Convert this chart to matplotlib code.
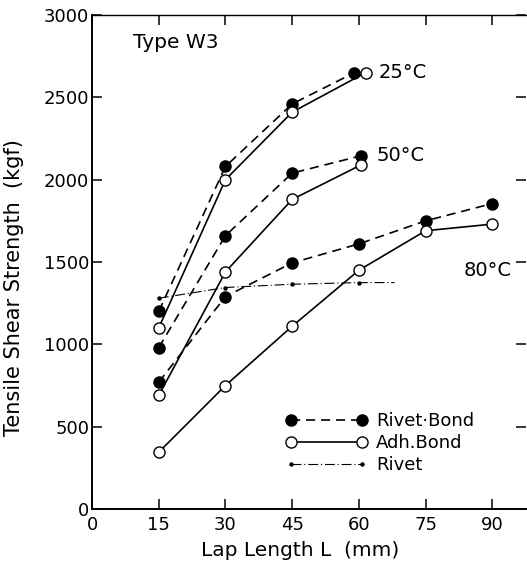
import matplotlib
matplotlib.use("Agg")
import matplotlib.pyplot as plt

# ─── Data ─────────────────────────────────────────────────────────────────────
lap_long = [15, 30, 45, 60, 75, 90]

rb_25_x = [15, 30, 45, 59]
rb_25 = [1200, 2080, 2460, 2650]
ad_25_x = [15, 30, 45, 61.5]
ad_25 = [1100, 2000, 2410, 2650]

rb_50_x = [15, 30, 45, 60.5]
rb_50 = [980, 1660, 2040, 2145]
ad_50_x = [15, 30, 45, 60.5]
ad_50 = [690, 1440, 1880, 2090]

rb_80 = [770, 1290, 1495, 1610, 1750, 1855]
ad_80 = [345, 750, 1110, 1450, 1690, 1730]

rivet_x = [15, 30, 45, 60, 68]
rivet_y = [1280, 1345, 1365, 1375, 1375]

x_ticks = [0, 15, 30, 45, 60, 75, 90]
y_ticks = [0, 500, 1000, 1500, 2000, 2500, 3000]

# ─── Figure ───────────────────────────────────────────────────────────────────
plt.rcParams["font.family"] = "DejaVu Sans"
fig = plt.figure(figsize=(5.27, 5.66), dpi=100)
ax = fig.add_axes([0.1746, 0.1007, 0.823, 0.8728])

LW = 1.2
MS = 8
rb_style = dict(color="black", linestyle=(0, (5.5, 3.5)), linewidth=LW,
                marker="o", markersize=MS, markerfacecolor="black",
                markeredgecolor="black")
ad_style = dict(color="black", linestyle="-", linewidth=LW,
                marker="o", markersize=MS, markerfacecolor="white",
                markeredgecolor="black", markeredgewidth=1.0)

ax.plot(rb_25_x, rb_25, **rb_style, zorder=3)
ax.plot(ad_25_x, ad_25, **ad_style, zorder=3)
ax.plot(rb_50_x, rb_50, **rb_style, zorder=3)
ax.plot(ad_50_x, ad_50, **ad_style, zorder=3)
ax.plot(lap_long, rb_80, **rb_style, label="Rivet·Bond", zorder=3)
ax.plot(lap_long, ad_80, **ad_style, label="Adh.Bond", zorder=3)
ax.plot(rivet_x, rivet_y, color="black", linewidth=0.8,
        linestyle=(0, (9, 2.5, 1, 2.5)), marker="o", markersize=2.2,
        markevery=[0, 1, 2, 3], label="Rivet", zorder=2)

# ─── Annotations ──────────────────────────────────────────────────────────────
ax.text(9.3, 2830, "Type W3", fontsize=14.5, va="center", ha="left")
ax.text(64.5, 2650, "25°C", fontsize=14, va="center", ha="left")
ax.text(64.0, 2145, "50°C", fontsize=14, va="center", ha="left")
ax.text(83.5, 1450, "80°C", fontsize=14, va="center", ha="left")

# ─── Axes ─────────────────────────────────────────────────────────────────────
ax.set_xlim(0, 97.5)
ax.set_ylim(0, 3000)
ax.set_xticks(x_ticks)
ax.set_yticks(y_ticks)
ax.tick_params(direction="in", length=7, width=1.1, labelsize=13,
               top=True, right=True, pad=5)
ax.tick_params(axis="y", pad=2)
ax.spines["right"].set_visible(False)
for s in ("left", "bottom"):
    ax.spines[s].set_linewidth(1.4)
ax.spines["top"].set_linewidth(1.0)

ax.set_xlabel("Lap Length L  (mm)", fontsize=14.5)
ax.set_ylabel("Tensile Shear Strength  (kgf)", fontsize=15)
ax.xaxis.set_label_coords(0.48, -0.083)
ax.yaxis.set_label_coords(-0.18, 0.449)
ax.xaxis.label.set_va("center")
ax.yaxis.label.set_va("center")

ax.legend(loc="upper left", bbox_to_anchor=(0.43, 0.21), frameon=False,
          fontsize=13, handlelength=4.5, numpoints=2, handletextpad=0.5,
          labelspacing=0.22, borderaxespad=0)

fig.savefig("out.png", dpi=100)
